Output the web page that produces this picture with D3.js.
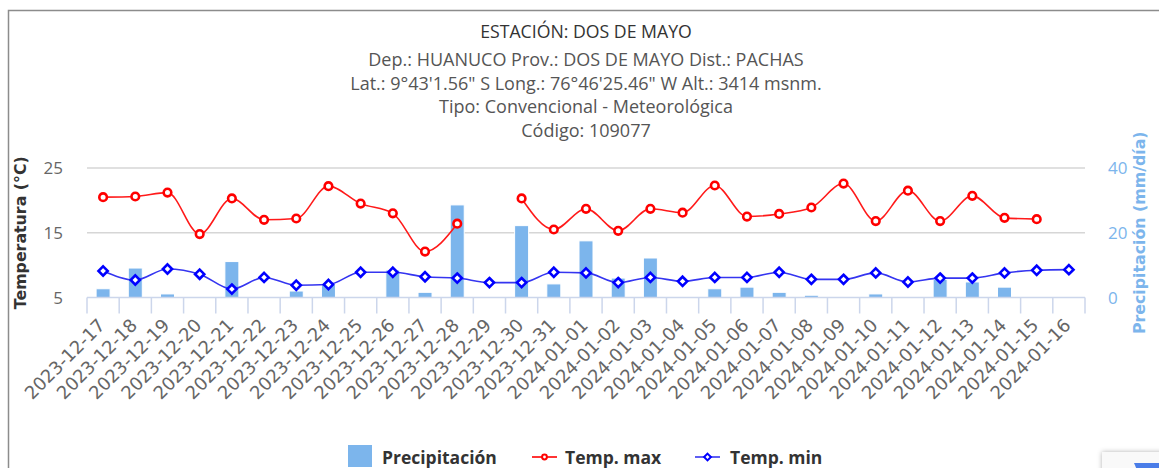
<!DOCTYPE html>
<html>
<head>
<meta charset="utf-8">
<title>Estación Dos de Mayo</title>
<script src="https://cdn.jsdelivr.net/npm/d3@7/dist/d3.min.js"></script>
<style>
  body { margin: 0; background: #fff; overflow: hidden; }
  svg text { font-family: "Open Sans", sans-serif; }
</style>
</head>
<body>
<script>
// Days shown on the x axis
var fechas = ["2023-12-17", "2023-12-18", "2023-12-19", "2023-12-20", "2023-12-21", "2023-12-22",
  "2023-12-23", "2023-12-24", "2023-12-25", "2023-12-26", "2023-12-27", "2023-12-28", "2023-12-29",
  "2023-12-30", "2023-12-31", "2024-01-01", "2024-01-02", "2024-01-03", "2024-01-04", "2024-01-05",
  "2024-01-06", "2024-01-07", "2024-01-08", "2024-01-09", "2024-01-10", "2024-01-11", "2024-01-12",
  "2024-01-13", "2024-01-14", "2024-01-15", "2024-01-16"];
// Precipitation (mm/dia)
var precipitacion = [2.7, 9.1, 1.1, 0, 11.1, 0, 2.0, 4.0, 0, 8.5, 1.6, 28.6, 0, 22.2, 4.2, 17.5,
  6.0, 12.2, 0, 2.7, 3.2, 1.6, 0.7, 0, 1.1, 0, 5.6, 4.8, 3.2, 0, 0];
// Max and min temperature (°C)
var tempMax = [20.5, 20.6, 21.2, 14.8, 20.3, 17.0, 17.2, 22.2, 19.5, 18.0, 12.1, 16.4, null, 20.3,
  15.5, 18.7, 15.3, 18.7, 18.1, 22.3, 17.5, 17.9, 18.9, 22.6, 16.8, 21.5, 16.8, 20.7, 17.3, 17.1, null];
var tempMin = [9.1, 7.7, 9.4, 8.6, 6.3, 8.1, 6.9, 7.0, 8.9, 8.9, 8.2, 8.0, 7.3, 7.3, 8.9, 8.8, 7.3,
  8.1, 7.5, 8.1, 8.1, 8.9, 7.8, 7.8, 8.8, 7.4, 8.0, 8.0, 8.8, 9.2, 9.3];
// Tick labels of both y axes
var ticksTemp = [5, 15, 25];
var ticksPrec = [0, 20, 40];
// Titles
var titulo = "ESTACIÓN: DOS DE MAYO";
var subtitulo = ["Dep.: HUANUCO Prov.: DOS DE MAYO Dist.: PACHAS",
  "Lat.: 9°43'1.56\" S Long.: 76°46'25.46\" W Alt.: 3414 msnm.",
  "Tipo: Convencional - Meteorológica",
  "Código: 109077"];

(function() {

var W = 1159, H = 468;
var pLeft = 87, pRight = 1085, pTop = 168, pBottom = 297.5;

var svg = d3.select("body").append("svg")
  .attr("width", W)
  .attr("height", H);

// Chart frame (top and left border of the container)
svg.append("path")
  .attr("d", "M8.5," + H + "V10.5H" + W)
  .attr("fill", "none")
  .attr("stroke", "#8c8c8c")
  .attr("stroke-width", 1.5);

// Titles
svg.append("text")
  .attr("x", 586).attr("y", 38)
  .attr("text-anchor", "middle")
  .style("font-size", "17.7px")
  .attr("fill", "#333")
  .text(titulo);
svg.selectAll(".sub")
  .data(subtitulo)
  .enter().append("text")
  .attr("class", "sub")
  .attr("x", 586)
  .attr("y", function(d, i) { return 66 + i * 23.6; })
  .attr("text-anchor", "middle")
  .style("font-size", "18px")
  .attr("fill", "#555")
  .text(function(d) { return d; });

// Scales
var x = d3.scaleBand().domain(fechas).range([pLeft, pRight]);
var yT = d3.scaleLinear().domain([5, 25]).range([pBottom, pTop]);
var yP = d3.scaleLinear().domain([0, 40]).range([pBottom, pTop]);

// Grid lines
svg.selectAll(".grid")
  .data(ticksTemp.slice(1))
  .enter().append("line")
  .attr("x1", pLeft).attr("x2", pRight)
  .attr("y1", function(d) { return yT(d); })
  .attr("y2", function(d) { return yT(d); })
  .attr("stroke", "#d6d6d6")
  .attr("stroke-width", 1.5);

// Left axis labels
svg.selectAll(".tt")
  .data(ticksTemp)
  .enter().append("text")
  .attr("x", 63)
  .attr("y", function(d) { return yT(d) + 6; })
  .attr("text-anchor", "end")
  .style("font-size", "17px")
  .attr("fill", "#666")
  .text(function(d) { return d; });

// Right axis labels
svg.selectAll(".tp")
  .data(ticksPrec)
  .enter().append("text")
  .attr("x", 1108)
  .attr("y", function(d) { return yP(d) + 6; })
  .style("font-size", "17px")
  .attr("fill", "#7cb5ec")
  .text(function(d) { return d; });

// Axis titles
svg.append("text")
  .attr("transform", "translate(26," + ((pTop + pBottom) / 2) + ") rotate(-90)")
  .attr("text-anchor", "middle")
  .style("font-family", "'DejaVu Sans', sans-serif")
  .style("font-weight", "bold")
  .style("font-size", "15.8px")
  .attr("fill", "#333")
  .text("Temperatura (°C)");
svg.append("text")
  .attr("transform", "translate(1145," + ((pTop + pBottom) / 2) + ") rotate(-90)")
  .attr("text-anchor", "middle")
  .style("font-family", "'DejaVu Sans', sans-serif")
  .style("font-weight", "bold")
  .style("font-size", "15.8px")
  .attr("fill", "#7cb5ec")
  .text("Precipitación (mm/día)");

// Bars
var bw = 14;
svg.selectAll(".bar")
  .data(precipitacion)
  .enter().append("rect")
  .attr("x", function(d, i) { return x(fechas[i]) + (x.bandwidth() - bw) / 2; })
  .attr("y", function(d) { return yP(d); })
  .attr("width", bw)
  .attr("height", function(d) { return pBottom - yP(d); })
  .attr("fill", "#7cb5ec")
  .attr("stroke", "#fff")
  .attr("stroke-width", function(d) { return d > 0 ? 1 : 0; });

// X axis: labels through d3, ticks on the band edges
var xAxis = d3.axisBottom(x).tickSize(0).tickPadding(0);
var gx = svg.append("g")
  .attr("transform", "translate(0," + pBottom + ")")
  .call(xAxis);
gx.select(".domain").remove();
gx.selectAll("text")
  .attr("fill", "#666")
  .attr("dy", null)
  .attr("y", 0)
  .attr("transform", "translate(3,29) rotate(-45)")
  .attr("text-anchor", "end")
  .style("font-family", "'DejaVu Sans', sans-serif")
  .style("font-size", "18px");

svg.append("line")
  .attr("x1", pLeft).attr("x2", pRight)
  .attr("y1", pBottom).attr("y2", pBottom)
  .attr("stroke", "#ccd6eb")
  .attr("stroke-width", 1.5);
svg.selectAll(".xt")
  .data(fechas.concat([null]))
  .enter().append("line")
  .attr("x1", function(d) { return d ? x(d) : pRight; })
  .attr("x2", function(d) { return d ? x(d) : pRight; })
  .attr("y1", pBottom).attr("y2", pBottom + 16)
  .attr("stroke", "#ccd6eb")
  .attr("stroke-width", 1.5);

// Lines
function cx(i) { return x(fechas[i]) + x.bandwidth() / 2; }
var lineMax = d3.line()
  .defined(function(d) { return d !== null; })
  .x(function(d, i) { return cx(i); })
  .y(function(d) { return yT(d); })
  .curve(d3.curveMonotoneX);
var lineMin = d3.line()
  .x(function(d, i) { return cx(i); })
  .y(function(d) { return yT(d); })
  .curve(d3.curveMonotoneX);

svg.append("path")
  .attr("d", lineMin(tempMin))
  .attr("fill", "none")
  .attr("stroke", "#3535f0")
  .attr("stroke-width", 1.6);
svg.append("path")
  .attr("d", lineMax(tempMax))
  .attr("fill", "none")
  .attr("stroke", "#ff1a1a")
  .attr("stroke-width", 1.6);

var diamond = function(r) { return "M0," + (-r) + "L" + r + ",0L0," + r + "L" + (-r) + ",0Z"; };

svg.selectAll(".mmin")
  .data(tempMin)
  .enter().append("path")
  .attr("d", diamond(4.6))
  .attr("transform", function(d, i) { return "translate(" + cx(i) + "," + yT(d) + ")"; })
  .attr("fill", "#fff")
  .attr("stroke", "blue")
  .attr("stroke-width", 2.6);

var puntosMax = tempMax.map(function(v, i) { return {v: v, i: i}; })
  .filter(function(d) { return d.v !== null; });
svg.selectAll(".mmax")
  .data(puntosMax)
  .enter().append("circle")
  .attr("cx", function(d) { return cx(d.i); })
  .attr("cy", function(d) { return yT(d.v); })
  .attr("r", 3.8)
  .attr("fill", "#fff")
  .attr("stroke", "red")
  .attr("stroke-width", 2.6);

// Legend
var leg = svg.append("g").style("font-family", "'Liberation Sans', Arial, sans-serif")
  .style("font-weight", "bold").style("font-size", "17.5px");
leg.append("rect").attr("x", 348).attr("y", 445).attr("width", 24).attr("height", 22).attr("fill", "#7cb5ec");
leg.append("text").attr("x", 382).attr("y", 464).attr("fill", "#333").text("Precipitación");
leg.append("line").attr("x1", 532).attr("x2", 557).attr("y1", 457).attr("y2", 457)
  .attr("stroke", "red").attr("stroke-width", 1.6);
leg.append("circle").attr("cx", 544.5).attr("cy", 457).attr("r", 2.4)
  .attr("fill", "#fff").attr("stroke", "red").attr("stroke-width", 2);
leg.append("text").attr("x", 565).attr("y", 464).attr("fill", "#333").text("Temp. max");
leg.append("line").attr("x1", 695).attr("x2", 720).attr("y1", 457).attr("y2", 457)
  .attr("stroke", "#3535f0").attr("stroke-width", 1.6);
leg.append("path").attr("d", diamond(3.4)).attr("transform", "translate(707.5,457)")
  .attr("fill", "#fff").attr("stroke", "blue").attr("stroke-width", 2);
leg.append("text").attr("x", 730).attr("y", 464).attr("fill", "#333").text("Temp. min");

// Floating badge in the lower right corner
var defs = svg.append("defs");
var f = defs.append("filter").attr("id", "sombra").attr("x", "-30%").attr("y", "-30%")
  .attr("width", "160%").attr("height", "160%");
f.append("feDropShadow").attr("dx", 0).attr("dy", 0).attr("stdDeviation", 2.5)
  .attr("flood-color", "#000").attr("flood-opacity", 0.3);
svg.append("rect").attr("x", 1102).attr("y", 452).attr("width", 80).attr("height", 40)
  .attr("fill", "#f9f9f9").attr("filter", "url(#sombra)");
svg.append("path").attr("d", "M1134,463H1159V470H1137Z").attr("fill", "#4a7de8");

})();
</script>
</body>
</html>
